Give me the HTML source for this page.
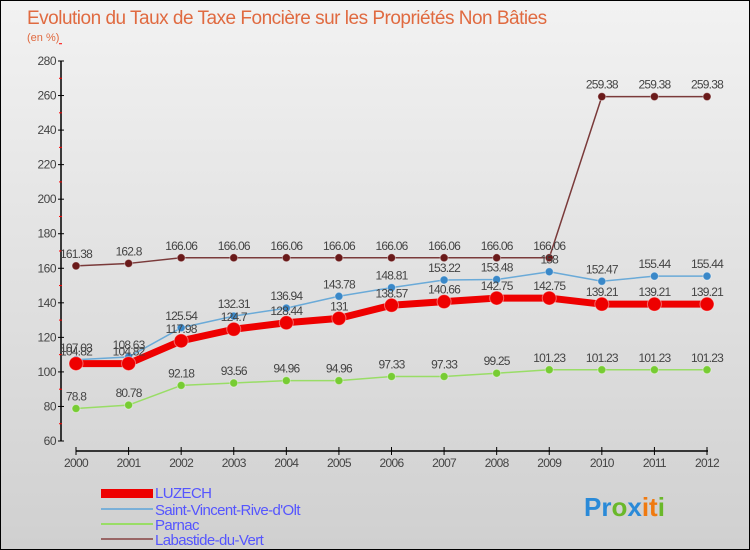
<!DOCTYPE html>
<html><head><meta charset="utf-8"><style>
body{margin:0}
#c{width:750px;height:550px;position:relative;overflow:hidden;box-sizing:border-box;border:1px solid #000;background:linear-gradient(#f2f2f2,#d0d0d0);font-family:"Liberation Sans",sans-serif}
</style></head><body>
<div id="c">
<svg id="s" width="750" height="550" style="position:absolute;left:0;top:0">
<text x="26" y="23" font-size="19" fill="#e06a40" letter-spacing="-0.5">Evolution du Taux de Taxe Foncière sur les Propriétés Non Bâties</text>
<text x="26" y="40" font-size="11" fill="#e06a40">(en %)</text>
<g id="ax"></g><g id="plot"></g>
<g>
<rect x="100" y="488" width="52" height="9" fill="#e00"/>
<text x="154" y="497" font-size="15" fill="#5555ff" letter-spacing="-0.6">LUZECH</text>
<line x1="100" y1="508" x2="152" y2="508" stroke="#7ab0d8" stroke-width="2"/>
<text x="154" y="514" font-size="15" fill="#5555ff" letter-spacing="-0.6">Saint-Vincent-Rive-d'Olt</text>
<line x1="100" y1="523" x2="152" y2="523" stroke="#99dd66" stroke-width="2"/>
<text x="154" y="529" font-size="15" fill="#5555ff" letter-spacing="-0.6">Parnac</text>
<line x1="100" y1="538" x2="152" y2="538" stroke="#996666" stroke-width="2"/>
<text x="154" y="544" font-size="15" fill="#5555ff" letter-spacing="-0.6">Labastide-du-Vert</text>
</g>
<text x="583" y="515" font-size="26" font-weight="bold"><tspan fill="#2a8ad8">Pr</tspan><tspan fill="#6ab82a">o</tspan><tspan fill="#2a8ad8">x</tspan><tspan fill="#f07a10">it</tspan><tspan fill="#6ab82a">i</tspan></text>
</svg>
</div>
<script>
const years=["2000","2001","2002","2003","2004","2005","2006","2007","2008","2009","2010","2011","2012"];
const yTicks=[60,80,100,120,140,160,180,200,220,240,260,280];
const luzech=[104.82,104.82,117.98,124.7,128.44,131,138.57,140.66,142.75,142.75,139.21,139.21,139.21];
const stvincent=[107.03,108.63,125.54,132.31,136.94,143.78,148.81,153.22,153.48,158,152.47,155.44,155.44];
const parnac=[78.8,80.78,92.18,93.56,94.96,94.96,97.33,97.33,99.25,101.23,101.23,101.23,101.23];
const labastide=[161.38,162.8,166.06,166.06,166.06,166.06,166.06,166.06,166.06,166.06,259.38,259.38,259.38];
const NS="http://www.w3.org/2000/svg";
const X=i=>75+i*(706-75)/12;
const Y=v=>440-(v-60)*(380/220);
function mk(p,t,a){const e=document.createElementNS(NS,t);for(const k in a)e.setAttribute(k,a[k]);p.appendChild(e);return e;}
const ax=document.getElementById('ax'),pl=document.getElementById('plot');
const ya=mk(ax,'line',{x1:60,y1:Y(60),x2:60,y2:Y(280),stroke:'#000','stroke-width':1.5});

yTicks.forEach(v=>{mk(ax,'line',{x1:57,y1:Y(v),x2:63,y2:Y(v),stroke:'#000'});
mk(ax,'line',{x1:58,y1:Y(v+10),x2:61,y2:Y(v+10),stroke:'#f00'});
const t=mk(ax,'text',{x:55,y:Y(v)+4,'font-size':12,fill:'#444','text-anchor':'end','letter-spacing':'-0.5'});t.textContent=v;
});
const xa=mk(ax,'line',{x1:75,y1:450,x2:707,y2:450,stroke:'#000','stroke-width':1.5});

years.forEach((y,i)=>{mk(ax,'line',{x1:X(i),y1:446,x2:X(i),y2:454,stroke:'#000'});
const t=mk(ax,'text',{x:X(i),y:466,'font-size':12,fill:'#444','text-anchor':'middle','letter-spacing':'-0.7'});t.textContent=y;
});
function series(d,name,col,w,r,dot){
const g=mk(pl,'g',{});
mk(g,'polyline',{points:d.map((v,i)=>X(i)+','+Y(v)).join(' '),fill:'none',stroke:col,'stroke-width':w,'stroke-linejoin':'round'});
d.forEach((v,i)=>{const c=mk(g,'circle',{cx:X(i),cy:Y(v),r:r,fill:dot,stroke:'#fff','stroke-opacity':0.4});

const t=mk(g,'text',{x:X(i),y:Y(v)-8,'font-size':12,fill:'#444','text-anchor':'middle','letter-spacing':'-0.8'});t.textContent=v;
});}
series(labastide,'labastide','#7a3a3a',1.5,4,'#6a1a1a');
series(parnac,'parnac','#99dd66',1.5,4,'#77cc33');
series(stvincent,'stvincent','#6aaad8',1.5,4,'#3a88c8');
series(luzech,'luzech','#ee0000',7,7,'#ee0000');
</script>
</body></html>
